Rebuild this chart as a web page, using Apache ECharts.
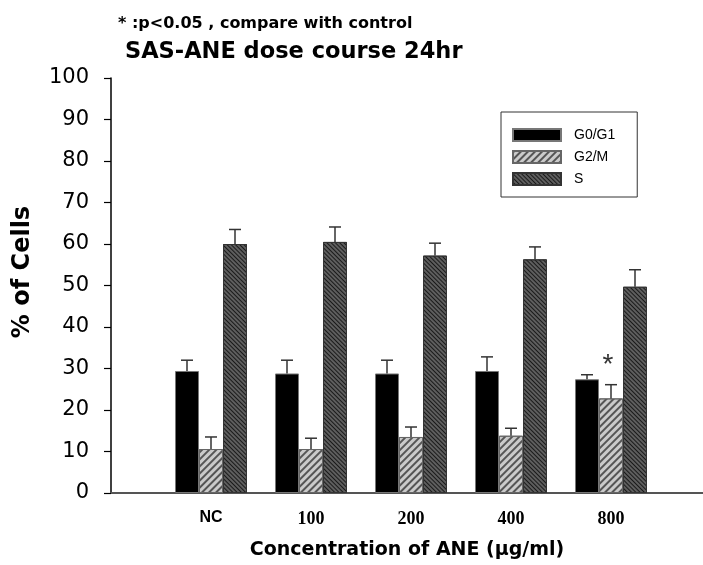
<!DOCTYPE html>
<html>
<head>
<meta charset="utf-8">
<script src="https://cdn.jsdelivr.net/npm/echarts@6/dist/echarts.min.js"></script>
<style>html,body{margin:0;padding:0;background:#fff;}#c{width:703px;height:565px;}</style>
</head>
<body>
<div id="c"></div>
<script>
var categories = ['NC', '100', '200', '400', '800'];
var g0g1 = [29.4, 28.8, 28.8, 29.4, 27.4];
var g0g1Err = [2.6, 3.2, 3.2, 3.4, 1.1];
var g2m = [10.6, 10.6, 13.5, 13.8, 22.8];
var g2mErr = [2.9, 2.6, 2.4, 1.8, 3.3];
var sPhase = [60.0, 60.5, 57.2, 56.3, 49.7];
var sErr = [3.5, 3.6, 3.0, 3.0, 4.1];
var g2mSignificant = [false, false, false, false, true];
var yTicks = [0, 10, 20, 30, 40, 50, 60, 70, 80, 90, 100];

var BAR_W = 24;
var SANS = '"Liberation Sans", Arial, sans-serif';
var WIDE = '"DejaVu Sans", "Liberation Sans", sans-serif';

function barData(vals) {
  return vals.map(function (v, i) { return [i + 1, v]; });
}
function errData(vals, errs, sig) {
  return vals.map(function (v, i) { return [i + 1, v, v + errs[i], sig && sig[i] ? 1 : 0]; });
}
function errSeries(name, vals, errs, offset, sig) {
  return {
    type: 'custom',
    name: name + ' err',
    z: 5,
    silent: true,
    data: errData(vals, errs, sig),
    renderItem: function (params, api) {
      var base = api.coord([api.value(0), api.value(1)]);
      var top = api.coord([api.value(0), api.value(2)]);
      var x = base[0] + offset;
      var children = [
        { type: 'line', shape: { x1: x, y1: base[1], x2: x, y2: top[1] }, style: { stroke: '#333', lineWidth: 1.5 } },
        { type: 'line', shape: { x1: x - 6, y1: top[1], x2: x + 6, y2: top[1] }, style: { stroke: '#333', lineWidth: 1.5 } }
      ];
      if (api.value(3) === 1) {
        children.push({ type: 'text', style: { text: '*', x: x - 3, y: top[1] - 5, align: 'center', verticalAlign: 'bottom', font: '28px ' + SANS, fill: '#333' } });
      }
      return { type: 'group', children: children };
    }
  };
}

var chart = echarts.init(document.getElementById('c'), null, { renderer: 'canvas' });
var option = {
  backgroundColor: '#fff',
  animation: false,
  title: [
    { text: '* :p<0.05 , compare with control', left: 113, top: 11, textStyle: { fontFamily: WIDE, fontSize: 16, fontWeight: 'bold', color: '#000' } },
    { text: 'SAS-ANE dose course 24hr', left: 120, top: 36, textStyle: { fontFamily: WIDE, fontSize: 22.5, fontWeight: 'bold', color: '#000' } }
  ],
  graphic: [
    { type: 'text', x: 23, y: 272, rotation: Math.PI / 2, style: { text: '% of Cells', align: 'center', verticalAlign: 'middle', font: 'bold 24px ' + WIDE, fill: '#000' } }
  ],
  legend: {
    orient: 'vertical',
    left: 501,
    top: 112,
    padding: [16, 22, 11, 11],
    itemWidth: 48,
    itemHeight: 12,
    itemGap: 8,
    borderColor: '#333',
    borderWidth: 1,
    icon: 'rect',
    data: ['G0/G1', 'G2/M', 'S'],
    textStyle: { fontFamily: SANS, fontSize: 14, color: '#000', padding: [0, 0, 0, 8] }
  },
  grid: { left: 111, right: 0, top: 78, bottom: 71, containLabel: false },
  xAxis: {
    type: 'value',
    min: 0,
    max: 5.92,
    interval: 1,
    axisLine: { lineStyle: { color: '#555', width: 2 } },
    axisTick: { show: false },
    splitLine: { show: false },
    axisLabel: {
      margin: 17,
      showMaxLabel: false,
      formatter: function (v) {
        var i = Math.round(v) - 1;
        if (Math.abs(v - Math.round(v)) > 1e-6 || i < 0 || i >= categories.length) return '';
        return i === 0 ? '{s|' + categories[i] + '}' : '{n|' + categories[i] + '}';
      },
      rich: {
        s: { fontFamily: SANS, fontSize: 16, fontWeight: 'bold', color: '#000' },
        n: { fontFamily: '"Liberation Serif", "Times New Roman", serif', fontSize: 18, fontWeight: 'bold', color: '#000' }
      }
    },
    name: 'Concentration of ANE (\u03bcg/ml)',
    nameLocation: 'middle',
    nameGap: 48,
    nameTextStyle: { fontFamily: WIDE, fontSize: 19, fontWeight: 'bold', color: '#000' }
  },
  yAxis: {
    type: 'value',
    min: yTicks[0],
    max: yTicks[yTicks.length - 1],
    interval: yTicks[1] - yTicks[0],
    axisLine: { show: true, lineStyle: { color: '#000', width: 1.5 } },
    axisTick: { show: true, length: 7, lineStyle: { color: '#000', width: 1.2 } },
    splitLine: { show: false },
    axisLabel: { margin: 22, fontFamily: WIDE, fontSize: 21, color: '#000' }
  },
  series: [
    {
      name: 'G0/G1', type: 'bar', barWidth: BAR_W, barGap: '0%',
      data: barData(g0g1),
      itemStyle: { color: '#000', borderColor: '#777', borderWidth: 1 }
    },
    {
      name: 'G2/M', type: 'bar', barWidth: BAR_W, barGap: '0%',
      data: barData(g2m),
      itemStyle: {
        color: '#cacaca', borderColor: '#666', borderWidth: 1,
        decal: { symbol: 'rect', symbolSize: 1, dashArrayX: [1, 0], dashArrayY: [1.3, 2.2], rotation: -Math.PI / 4, color: '#555' }
      }
    },
    {
      name: 'S', type: 'bar', barWidth: BAR_W, barGap: '0%',
      data: barData(sPhase),
      itemStyle: {
        color: '#5e5e5e', borderColor: '#333', borderWidth: 1,
        decal: { symbol: 'rect', symbolSize: 1, dashArrayX: [1, 0], dashArrayY: [1, 2], rotation: Math.PI / 4, color: '#1a1a1a' }
      }
    },
    errSeries('G0/G1', g0g1, g0g1Err, -BAR_W),
    errSeries('G2/M', g2m, g2mErr, 0, g2mSignificant),
    errSeries('S', sPhase, sErr, BAR_W)
  ]
};
chart.setOption(option);
</script>
</body>
</html>
